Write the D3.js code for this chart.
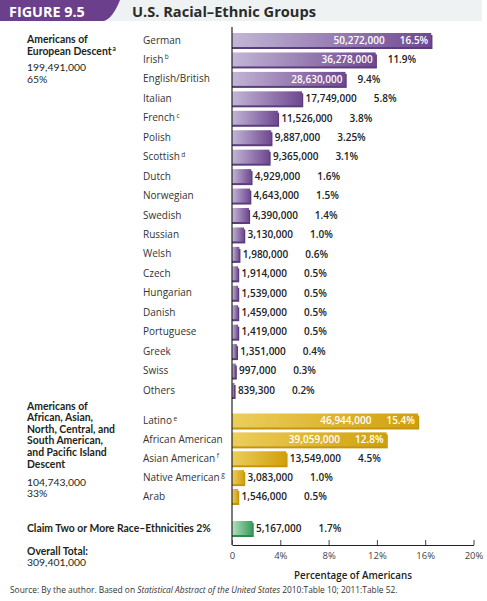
<!DOCTYPE html>
<html><head><meta charset="utf-8">
<script src="https://cdn.jsdelivr.net/npm/d3@7"></script>
<style>
html,body{margin:0;padding:0;background:#fff;}
svg{display:block;font-family:"Open Sans",sans-serif;}
</style></head>
<body><svg id="c" width="487" height="601"></svg>
<script>
// ---- data ----
const europeanCategories = ["German","Irish","English/British","Italian","French","Polish","Scottish","Dutch","Norwegian","Swedish","Russian","Welsh","Czech","Hungarian","Danish","Portuguese","Greek","Swiss","Others"];
const europeanNotes = ["","b","","","c","","d","","","","","","","","","","","",""];
const europeanCounts = [50272000,36278000,28630000,17749000,11526000,9887000,9365000,4929000,4643000,4390000,3130000,1980000,1914000,1539000,1459000,1419000,1351000,997000,839300];
const europeanPercents = [16.5,11.9,9.4,5.8,3.8,3.25,3.1,1.6,1.5,1.4,1.0,0.6,0.5,0.5,0.5,0.5,0.4,0.3,0.2];

const otherCategories = ["Latino","African American","Asian American","Native American","Arab"];
const otherNotes = ["e","","f","g",""];
const otherCounts = [46944000,39059000,13549000,3083000,1546000];
const otherPercents = [15.4,12.8,4.5,1.0,0.5];

const multiCategories = ["Two or More"];
const multiCounts = [5167000];
const multiPercents = [1.7];

const xTicks = [0,4,8,12,16,20];

// ---- setup ----
const svg = d3.select("#c");
const defs = svg.append("defs");
function grad(id, c0, c1){
  const g = defs.append("linearGradient").attr("id", id).attr("x1","0").attr("x2","1").attr("y1","0").attr("y2","0");
  g.append("stop").attr("offset","0").attr("stop-color", c0);
  g.append("stop").attr("offset","1").attr("stop-color", c1);
}
grad("gPurple", "#c3b6d6", "#6f4890");
grad("gGold", "#ecce5c", "#d19f0c");
grad("gGreen", "#b4e0bf", "#3a9a5c");

// header
svg.append("rect").attr("x",100).attr("y",0).attr("width",382).attr("height",21).attr("fill","#eef2f2");
svg.append("path").attr("d","M0,0 H120 Q113,18 104,21 H0 Z").attr("fill","#6b3f8c");
svg.append("text").attr("x",9).attr("y",16.5).attr("fill","#fff").attr("font-weight",700).attr("font-size",14.4).text("FIGURE 9.5");
svg.append("text").attr("x",132).attr("y",16.5).attr("fill","#2b2b2b").attr("font-weight",700).attr("font-size",14.6).text("U.S. Racial–Ethnic Groups");

const x = d3.scaleLinear().domain([0,20]).range([232,473.5]);
const y1 = d3.scalePoint().domain(europeanCategories).range([40,390]);
const y2 = d3.scalePoint().domain(otherCategories).range([420.5,496]);
const y3 = d3.scalePoint().domain(multiCategories).range([528,528]);

const fmt = d3.format(",");
const pctFmt = p => (Math.round(p*10) === p*10 ? p.toFixed(1) : String(p)) + "%";
const barH = 14;

function group(cats, notes, counts, pcts, yScale, fill, shadow){
  const data = cats.map((c,i)=>({c, n: notes ? notes[i] : "", v: counts[i], p: pcts[i]}));
  const g = svg.append("g");
  if (notes){
    const t = g.selectAll("text.cat").data(data).join("text")
      .attr("x",143).attr("y",d=>yScale(d.c)+3.5)
      .attr("font-size",10).attr("fill","#333");
    t.append("tspan").text(d=>d.c);
    t.append("tspan").attr("dy",-3.5).attr("dx",1.5).attr("font-size",6.5).text(d=>d.n);
  }
  g.selectAll("rect.sh").data(data).join("rect")
    .attr("x",x(0)).attr("y",d=>yScale(d.c)-barH/2+2)
    .attr("width",d=>x(d.p)-x(0)+1.2).attr("height",barH)
    .attr("fill",shadow);
  g.selectAll("rect.bar").data(data).join("rect")
    .attr("x",x(0)).attr("y",d=>yScale(d.c)-barH/2)
    .attr("width",d=>x(d.p)-x(0)).attr("height",barH)
    .attr("fill",fill);
  data.forEach(d=>{
    const yy = yScale(d.c)+3.8;
    const end = x(d.p);
    const pctStr = pctFmt(d.p);
    if (d.p >= 12){
      const pt = g.append("text").attr("x",end-3).attr("y",yy).attr("text-anchor","end")
        .attr("font-size",10).attr("font-weight",600).attr("fill","#fff").text(pctStr);
      const w = pt.node().getComputedTextLength();
      g.append("text").attr("x",end-3-w-15).attr("y",yy).attr("text-anchor","end")
        .attr("font-size",10).attr("font-weight",600).attr("fill","#fff").text(fmt(d.v));
    } else if (d.p >= 9){
      g.append("text").attr("x",end-3).attr("y",yy).attr("text-anchor","end")
        .attr("font-size",10).attr("font-weight",600).attr("fill","#fff").text(fmt(d.v));
      g.append("text").attr("x",end+12).attr("y",yy)
        .attr("font-size",10).attr("font-weight",600).attr("fill","#222").text(pctStr);
    } else {
      const vt = g.append("text").attr("x",end+3.5).attr("y",yy)
        .attr("font-size",10).attr("font-weight",600).attr("fill","#222").text(fmt(d.v));
      const w = vt.node().getComputedTextLength();
      g.append("text").attr("x",end+3.5+w+17).attr("y",yy)
        .attr("font-size",10).attr("font-weight",600).attr("fill","#222").text(pctStr);
    }
  });
}
group(europeanCategories, europeanNotes, europeanCounts, europeanPercents, y1, "url(#gPurple)", "#5c3c7c");
group(otherCategories, otherNotes, otherCounts, otherPercents, y2, "url(#gGold)", "#c4960e");
group(multiCategories, null, multiCounts, multiPercents, y3, "url(#gGreen)", "#2f8a4e");

// left group labels
function lines(arr, x0, ys, weight, size){
  arr.forEach((s,i)=>{
    const t = svg.append("text").attr("x",x0).attr("y",ys[i]).attr("font-family","Lato, sans-serif")
      .attr("font-size",size).attr("font-weight",weight).attr("fill","#231f20");
    if (Array.isArray(s)){ t.append("tspan").text(s[0]); t.append("tspan").attr("dy",-3.5).attr("dx",1).attr("font-size",6.5).text(s[1]); }
    else t.text(s);
  });
}
lines(["Americans of", ["European Descent","a"]], 27, [43,54.5], 700, 10.4);
lines(["199,491,000","65%"], 27, [71.2,82.6], 400, 10.4);
lines(["Americans of","African, Asian,","North, Central, and","South American,","and Pacific Island","Descent"], 27, [409.5,421.2,432.8,444.4,456,467.6], 700, 10.4);
lines(["104,743,000","33%"], 27, [485.5,497], 400, 10.4);
lines(["Claim Two or More Race–Ethnicities 2%"], 27, [531.5], 700, 10.4);
lines(["Overall Total:"], 27, [554.5], 700, 10.4);
lines(["309,401,000"], 27, [566.2], 400, 10.4);

// axes
svg.append("line").attr("x1",x(0)).attr("x2",x(0)).attr("y1",27).attr("y2",545).attr("stroke","#222").attr("stroke-width",1.2);
const ax = svg.append("g").attr("transform","translate(0,545)")
  .call(d3.axisBottom(x).tickValues(xTicks).tickSizeInner(-5).tickSizeOuter(0).tickPadding(7)
    .tickFormat(d=> d===0 ? "0" : d+"%"));
ax.select(".domain").attr("stroke","#222").attr("stroke-width",1.2);
ax.selectAll(".tick line").attr("stroke","#444");
ax.selectAll(".tick text").attr("font-size",9.5).attr("fill","#444").attr("font-family","Open Sans, sans-serif");
svg.append("text").attr("x",353).attr("y",578.5).attr("text-anchor","middle").attr("font-size",9.8).attr("font-weight",600).attr("fill","#231f20").text("Percentage of Americans");

// source
const src = svg.append("text").attr("x",10).attr("y",593).attr("font-size",8.4).attr("fill","#333");
src.append("tspan").text("Source: By the author. Based on ");
src.append("tspan").attr("font-style","italic").text("Statistical Abstract of the United States");
src.append("tspan").text(" 2010:Table 10; 2011:Table 52.");
</script></body></html>
